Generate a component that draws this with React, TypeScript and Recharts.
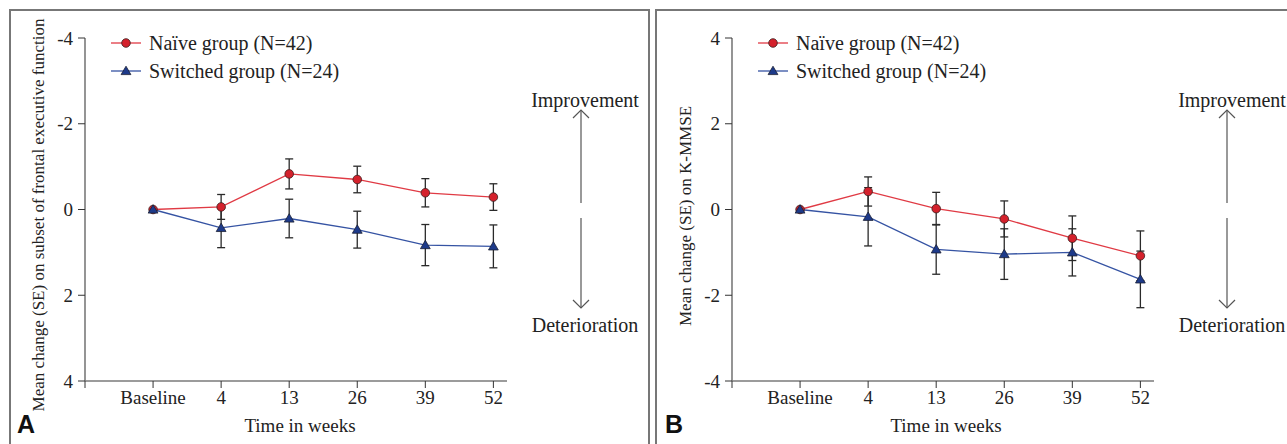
import React from 'react';
import { LineChart, Line, XAxis, YAxis, ErrorBar, Legend } from 'recharts';

// x categories (time points)
const weeks = ['Baseline', '4', '13', '26', '39', '52'];
const weekIndex = [0, 1, 2, 3, 4, 5];
const xTicks = [-1, 0, 1, 2, 3, 4, 5];
const yTicks = [-4, -2, 0, 2, 4];

// panel A: subset of frontal executive function
const naiveExec = [0, -0.06, -0.83, -0.7, -0.39, -0.29];
const naiveExecSe = [null, 0.29, 0.35, 0.31, 0.33, 0.31];
const switchedExec = [0, 0.43, 0.21, 0.47, 0.83, 0.86];
const switchedExecSe = [null, 0.46, 0.45, 0.43, 0.48, 0.5];

// panel B: K-MMSE
const naiveMmse = [0, 0.42, 0.02, -0.22, -0.67, -1.08];
const naiveMmseSe = [null, 0.34, 0.38, 0.42, 0.52, 0.58];
const switchedMmse = [0, -0.17, -0.93, -1.04, -1.0, -1.63];
const switchedMmseSe = [null, 0.68, 0.58, 0.59, 0.55, 0.66];

const seriesNames = ['Naïve group (N=42)', 'Switched group (N=24)'];

const SERIF = "'Liberation Serif', 'Times New Roman', serif";
const RED_LINE = '#e03a44';
const RED_FILL = '#d4212c';
const BLUE_LINE = '#3553a3';
const BLUE_FILL = '#1d3a8a';
const AXIS = '#7a7a7a';
const INK = '#222';

function buildRows(naive: (number | null)[], naiveSe: (number | null)[], switched: (number | null)[], switchedSe: (number | null)[]) {
  return weekIndex.map((i) => ({
    i,
    naive: naive[i],
    naiveSe: naiveSe[i],
    switched: switched[i],
    switchedSe: switchedSe[i],
  }));
}

const CircleDot = (p: any) => {
  if (p.cx == null || p.cy == null) return <g key={`c${p.index}`} />;
  return <circle key={`c${p.index}`} cx={p.cx} cy={p.cy} r={4.3} fill={RED_FILL} stroke="#3a1d1d" strokeWidth={0.8} />;
};

const TriangleDot = (p: any) => {
  if (p.cx == null || p.cy == null) return <g key={`t${p.index}`} />;
  const { cx, cy } = p;
  return (
    <path
      key={`t${p.index}`}
      d={`M${cx},${cy - 4.8}L${cx + 4.9},${cy + 3.6}L${cx - 4.9},${cy + 3.6}Z`}
      fill={BLUE_FILL}
      stroke="#1a1f33"
      strokeWidth={0.8}
    />
  );
};

const LegendBox = () => (
  <svg width={280} height={60}>
    {seriesNames.map((name, k) => {
      const y = 10 + k * 28;
      return (
        <g key={name}>
          <line x1={0} x2={30} y1={y} y2={y} stroke={k === 0 ? RED_LINE : BLUE_LINE} strokeWidth={1.3} />
          {k === 0 ? <CircleDot cx={15} cy={y} index={0} /> : <TriangleDot cx={15} cy={y} index={0} />}
          <text x={38} y={y} dominantBaseline="central" fontFamily={SERIF} fontSize={20} fill={INK}>
            {name}
          </text>
        </g>
      );
    })}
  </svg>
);

interface PanelProps {
  rows: ReturnType<typeof buildRows>;
  reversed: boolean;
}

const Panel: React.FC<PanelProps> = ({ rows, reversed }) => (
  <LineChart width={640} height={444} data={rows} margin={{ top: 38, right: 133, bottom: 33, left: 25 }}>
    <XAxis
      type="number"
      dataKey="i"
      domain={[-1, 5.2]}
      ticks={xTicks}
      tickFormatter={(v: number) => weeks[v] ?? ''}
      height={30}
      tickSize={7}
      tickMargin={3}
      axisLine={{ stroke: AXIS, strokeWidth: 1.6 }}
      tickLine={{ stroke: '#333', strokeWidth: 1 }}
      tick={{ fill: INK, fontSize: 19, fontFamily: SERIF }}
      interval={0}
    />
    <YAxis
      type="number"
      domain={[-4, 4]}
      ticks={yTicks}
      reversed={reversed}
      width={60}
      tickSize={7}
      tickMargin={5}
      axisLine={{ stroke: AXIS, strokeWidth: 1.6 }}
      tickLine={{ stroke: '#333', strokeWidth: 1 }}
      tick={{ fill: INK, fontSize: 19, fontFamily: SERIF }}
      interval={0}
    />
    <Legend
      layout="horizontal"
      verticalAlign="middle"
      align="center"
      wrapperStyle={{ left: 111, top: 33, width: 280, height: 60 }}
      content={() => <LegendBox />}
    />
    <Line
      dataKey="naive"
      name={seriesNames[0]}
      stroke={RED_LINE}
      strokeWidth={1.3}
      dot={CircleDot}
      activeDot={false}
      isAnimationActive={false}
    >
      <ErrorBar dataKey="naiveSe" direction="y" width={4} stroke="#2a2a2a" strokeWidth={1.3} isAnimationActive={false} />
    </Line>
    <Line
      dataKey="switched"
      name={seriesNames[1]}
      stroke={BLUE_LINE}
      strokeWidth={1.3}
      dot={TriangleDot}
      activeDot={false}
      isAnimationActive={false}
    >
      <ErrorBar dataKey="switchedSe" direction="y" width={4} stroke="#2a2a2a" strokeWidth={1.3} isAnimationActive={false} />
    </Line>
  </LineChart>
);

const Arrows: React.FC<{ x: number; tx: number }> = ({ x, tx }) => (
  <g>
    <text x={tx} y={100} textAnchor="middle" dominantBaseline="central" fontFamily={SERIF} fontSize={20} fill={INK}>
      Improvement
    </text>
    <line x1={x} x2={x} y1={110} y2={203} stroke="#555" strokeWidth={1.2} />
    <polyline points={`${x - 8},${118} ${x},${110} ${x + 8},${118}`} fill="none" stroke="#555" strokeWidth={1.2} />
    <line x1={x} x2={x} y1={218} y2={308} stroke="#555" strokeWidth={1.2} />
    <polyline points={`${x - 8},${300} ${x},${308} ${x + 8},${300}`} fill="none" stroke="#555" strokeWidth={1.2} />
    <text x={tx} y={325} textAnchor="middle" dominantBaseline="central" fontFamily={SERIF} fontSize={20} fill={INK}>
      Deterioration
    </text>
  </g>
);

export default function App() {
  const execRows = buildRows(naiveExec, naiveExecSe, switchedExec, switchedExecSe);
  const mmseRows = buildRows(naiveMmse, naiveMmseSe, switchedMmse, switchedMmseSe);
  return (
    <div style={{ position: 'absolute', left: 0, top: 0, width: 1287, height: 444, overflow: 'hidden', background: '#fff' }}>
      <div style={{ position: 'absolute', left: 9, top: 9, width: 637, height: 460, border: '2px solid #777' }} />
      <div style={{ position: 'absolute', left: 655, top: 9, width: 660, height: 460, border: '2px solid #777' }} />
      <div style={{ position: 'absolute', left: 0, top: 0 }}>
        <Panel rows={execRows} reversed={true} />
      </div>
      <div style={{ position: 'absolute', left: 647, top: 0 }}>
        <Panel rows={mmseRows} reversed={false} />
      </div>
      <svg width={1287} height={444} style={{ position: 'absolute', left: 0, top: 0, pointerEvents: 'none' }}>
        <text transform="translate(38,215) rotate(-90)" textAnchor="middle" dominantBaseline="central" fontFamily={SERIF} fontSize={17} fill={INK}>
          Mean change (SE) on subset of frontal executive function
        </text>
        <text transform="translate(685,216) rotate(-90)" textAnchor="middle" dominantBaseline="central" fontFamily={SERIF} fontSize={17} fill={INK}>
          Mean change (SE) on K-MMSE
        </text>
        <text x={300} y={425} textAnchor="middle" dominantBaseline="central" fontFamily={SERIF} fontSize={19} fill={INK}>
          Time in weeks
        </text>
        <text x={946} y={425} textAnchor="middle" dominantBaseline="central" fontFamily={SERIF} fontSize={19} fill={INK}>
          Time in weeks
        </text>
        <text x={17} y={433} fontFamily="'Liberation Sans', Arial, sans-serif" fontWeight="bold" fontSize={25} fill="#111">
          A
        </text>
        <text x={665} y={433} fontFamily="'Liberation Sans', Arial, sans-serif" fontWeight="bold" fontSize={25} fill="#111">
          B
        </text>
        <Arrows x={581} tx={585} />
        <Arrows x={1227} tx={1232} />
      </svg>
    </div>
  );
}
